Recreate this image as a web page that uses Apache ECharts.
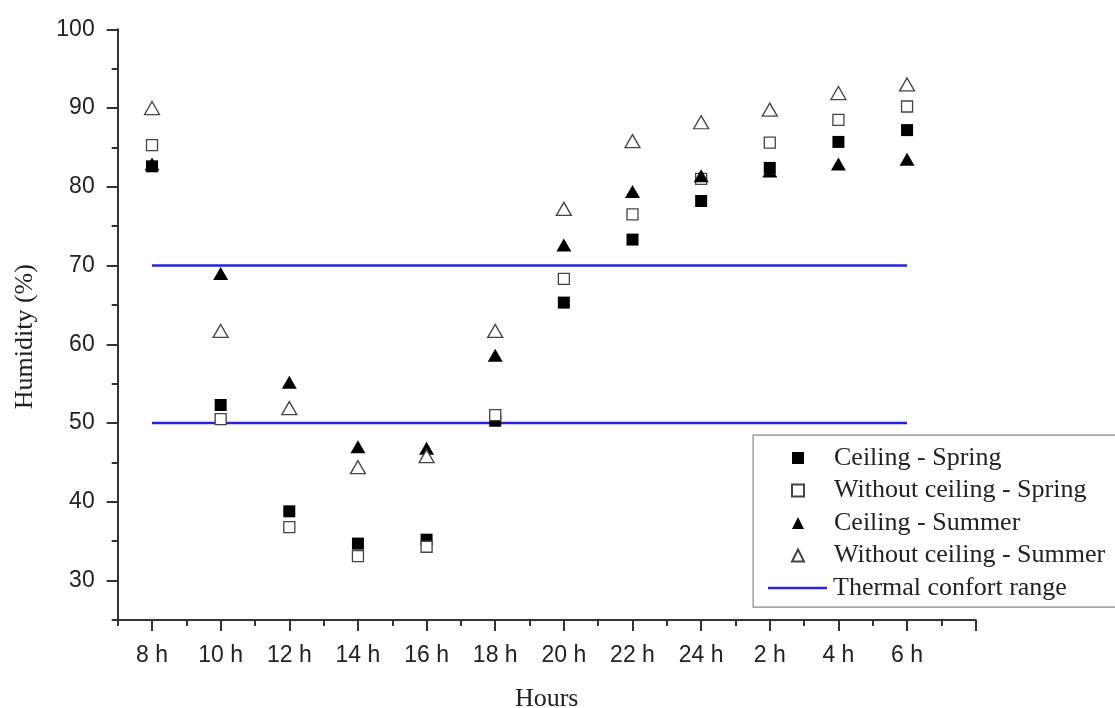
<!DOCTYPE html>
<html>
<head>
<meta charset="utf-8">
<script src="https://cdn.jsdelivr.net/npm/echarts@6/dist/echarts.min.js"></script>
<style>html,body{margin:0;padding:0;background:#fff}#c{width:1115px;height:708px}</style>
</head>
<body>
<div id="c"></div>
<script>
var hours = ['8 h','10 h','12 h','14 h','16 h','18 h','20 h','22 h','24 h','2 h','4 h','6 h'];
var ceilingSpring = [82.6, 52.3, 38.8, 34.7, 35.2, 50.3, 65.3, 73.3, 78.2, 82.4, 85.7, 87.2];
var withoutSpring = [85.3, 50.5, 36.8, 33.1, 34.3, 51.0, 68.3, 76.5, 81.0, 85.6, 88.5, 90.2];
var ceilingSummer = [82.9, 69.0, 55.2, 47.0, 46.8, 58.6, 72.6, 79.4, 81.4, 82.0, 82.9, 83.5];
var withoutSummer = [90.0, 61.7, 51.9, 44.4, 45.8, 61.7, 77.2, 85.8, 88.2, 89.8, 91.9, 93.0];
var comfortLow = 50;
var comfortHigh = 70;
var yTicks = [30, 40, 50, 60, 70, 80, 90, 100];
var yMinorTicks = [25, 35, 45, 55, 65, 75, 85, 95];

function pts(arr){ return arr.map(function(v,i){ return [i, v]; }); }
var xMajor = hours.map(function(h,i){ return i; });
var xMajorTicks = xMajor.concat([hours.length]);
var xMinorTicks = xMajor.map(function(i){ return i - 0.5; }).concat([hours.length - 0.5]);

var axisColor = '#333';
var blue = '#2424dc';
var serif = "'Liberation Serif', 'DejaVu Serif', serif";
var sans = "'Liberation Sans', Arial, sans-serif";

var chart = echarts.init(document.getElementById('c'), null, {renderer: 'canvas'});
chart.setOption({
  animation: false,
  backgroundColor: '#fff',
  grid: {left: 117.7, right: 139.3, top: 29.3, bottom: 88, containLabel: false, outerBoundsMode: 'none'},
  xAxis: [{
    type: 'value', min: -0.5, max: 12,
    name: 'Hours', nameLocation: 'middle', nameGap: 66,
    nameTextStyle: {fontFamily: serif, fontSize: 26, color: '#222'},
    axisLine: {show: true, onZero: false, lineStyle: {color: axisColor, width: 2}},
    axisTick: {show: true, customValues: xMajorTicks, length: 11, lineStyle: {color: axisColor, width: 2}},
    axisLabel: {show: true, customValues: xMajor, margin: 24, fontFamily: sans, fontSize: 23, color: '#222',
      formatter: function(v){ return hours[Math.round(v)] || ''; }},
    splitLine: {show: false}
  }, {
    type: 'value', min: -0.5, max: 12, position: 'bottom',
    axisLine: {show: false, onZero: false},
    axisTick: {show: true, customValues: xMinorTicks, length: 6, lineStyle: {color: axisColor, width: 2}},
    axisLabel: {show: false},
    splitLine: {show: false}
  }],
  yAxis: [{
    type: 'value', min: 25, max: 100,
    name: 'Humidity (%)', nameLocation: 'middle', nameGap: 80,
    nameTextStyle: {fontFamily: serif, fontSize: 26, color: '#222', padding: [0, 24, 0, 0]},
    axisLine: {show: true, onZero: false, lineStyle: {color: axisColor, width: 2}},
    axisTick: {show: true, customValues: yTicks, length: 11, lineStyle: {color: axisColor, width: 2}},
    axisLabel: {show: true, customValues: yTicks, margin: 23, fontFamily: sans, fontSize: 23, color: '#222'},
    splitLine: {show: false}
  }, {
    type: 'value', min: 25, max: 100, position: 'left',
    axisLine: {show: false, onZero: false},
    axisTick: {show: true, customValues: yMinorTicks, length: 6, lineStyle: {color: axisColor, width: 2}},
    axisLabel: {show: false},
    splitLine: {show: false}
  }],
  legend: [{
    orient: 'vertical', left: 791, top: 441.75, padding: 0, itemGap: 0,
    itemWidth: 12, itemHeight: 12,
    textStyle: {fontFamily: serif, fontSize: 26, color: '#222', lineHeight: 32.5, padding: [0, 0, 0, 25]},
    data: ['Ceiling - Spring', 'Without ceiling - Spring', 'Ceiling - Summer', 'Without ceiling - Summer']
  }, {
    orient: 'vertical', left: 768, top: 571.75, padding: 0, itemGap: 0,
    itemWidth: 59, itemHeight: 2.5, icon: 'rect',
    textStyle: {fontFamily: serif, fontSize: 26, color: '#222', lineHeight: 32.5, padding: [0, 0, 0, 1]},
    data: ['Thermal confort range']
  }],
  graphic: [{
    type: 'rect', left: 752.5, top: 434.5, z: 0,
    shape: {width: 420, height: 172},
    style: {fill: '#fff', stroke: '#888', lineWidth: 1.2}
  }],
  series: [{
    name: 'Thermal confort range', type: 'line', symbol: 'none', z: 1,
    lineStyle: {color: blue, width: 2.5}, itemStyle: {color: blue},
    data: [[0, comfortHigh], [hours.length - 1, comfortHigh]]
  }, {
    name: 'Thermal confort range', type: 'line', symbol: 'none', z: 1,
    lineStyle: {color: blue, width: 2.5}, itemStyle: {color: blue},
    data: [[0, comfortLow], [hours.length - 1, comfortLow]]
  }, {
    name: 'Ceiling - Spring', type: 'scatter', symbol: 'rect', symbolSize: 12, z: 3,
    itemStyle: {color: '#000', opacity: 1},
    data: pts(ceilingSpring)
  }, {
    name: 'Without ceiling - Spring', type: 'scatter', symbol: 'rect', symbolSize: 11, z: 3,
    itemStyle: {color: '#fff', borderColor: '#444', borderWidth: 1.3, opacity: 1},
    data: pts(withoutSpring)
  }, {
    name: 'Ceiling - Summer', type: 'scatter', symbol: 'triangle', symbolSize: [15, 13], z: 3,
    itemStyle: {color: '#000', opacity: 1},
    data: pts(ceilingSummer)
  }, {
    name: 'Without ceiling - Summer', type: 'scatter', symbol: 'triangle', symbolSize: [15, 13], z: 3,
    itemStyle: {color: '#fff', borderColor: '#444', borderWidth: 1.3, opacity: 1},
    data: pts(withoutSummer)
  }]
});
</script>
</body>
</html>
